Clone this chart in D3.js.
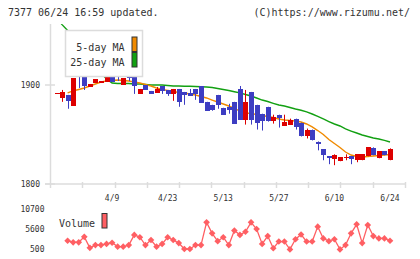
<!DOCTYPE html>
<html>
<head>
<meta charset="utf-8">
<script src="https://cdn.jsdelivr.net/npm/d3@7"></script>
<style>
  body { margin: 0; background: #fff; }
  svg { display: block; }
  text { font-family: "DejaVu Sans Mono", monospace; fill: #333; }
</style>
</head>
<body>
<div id="chart"></div>
<script>
// daily candles (index 0 = oldest day)
const opens  = [1892,1887,1890,1879,1914,1910,1898,1902,1902,1903,1911,1911,1900,1910,1910,1891,1900,1894,1892,1899,
                1895,1891,1896,1893,1892,1896,1899,1883,1880,1890,1877,1878,1883,1896,1865,1893,1880,1871,1878,1864,
                1870,1859,1860,1866,1862,1848,1855,1842,1835,1828,1825,1823,1826,1828,1824,1824,1828,1836,1826,1833,1824];
const highs  = [1892,1895,1890,1907,1914,1912,1901,1906,1904,1909,1911,1911,1907,1910,1911,1896,1900,1894,1898,1899,
                1895,1896,1896,1893,1896,1896,1899,1883,1880,1890,1877,1881,1883,1899,1895,1893,1880,1871,1878,1870,
                1870,1870,1866,1866,1862,1856,1855,1843,1835,1828,1830,1827,1830,1828,1830,1830,1837,1837,1833,1833,1836];
const lows   = [1892,1883,1876,1879,1897,1895,1898,1902,1902,1903,1903,1904,1900,1904,1891,1891,1895,1891,1892,1891,
                1889,1884,1878,1880,1889,1885,1882,1874,1874,1876,1870,1871,1861,1865,1860,1860,1855,1854,1863,1861,
                1857,1859,1860,1855,1848,1846,1844,1834,1824,1820,1819,1823,1824,1820,1822,1824,1828,1829,1826,1829,1824];
const closes = [1892,1893,1884,1907,1909,1899,1901,1906,1904,1909,1903,1908,1907,1907,1899,1896,1895,1891,1896,1894,
                1891,1896,1883,1890,1889,1891,1882,1874,1875,1880,1870,1875,1861,1865,1883,1865,1862,1864,1864,1868,
                1867,1863,1865,1858,1848,1855,1844,1840,1829,1826,1829,1827,1827,1825,1830,1830,1837,1829,1833,1829,1835];

// moving averages (also, the 25-day one comes in from above)
const ma5  = [null,null,1892,1894,1895.5,1897,1899,1901,1903,1904,1904.5,1905,1904.5,1904,1903,1902,1900.5,1899,1897,1895.5,
              1894.4,1893.4,1892.4,1891.9,1890.9,1889.9,1888.4,1886.9,1884.8,1882.8,1880.8,1878.8,1876.3,1873.7,1871.7,1871.2,1870.2,1869.2,1868.2,1867.2,
              1865.7,1864.6,1864.1,1863.6,1862.6,1860.6,1857.6,1854,1850,1845,1840.9,1836.9,1832.3,1829.3,1827.8,1827.3,1827.8,1828.3,1828.8,1829.3,1829.8];
const ma25 = [1968,1961,1955,1947,1939,1931,1924,1917,1912,1906,1902,1901.5,1901.5,1901.5,1901,1901,1900.5,1900,1900,1900,
              1899.5,1899,1899,1898.8,1898.7,1898.5,1898.3,1898,1897.5,1896.5,1895.5,1894.5,1893.2,1892,1890.4,1888.9,1886.9,1884.8,1883.3,1881.5,
              1879.8,1878.8,1877.3,1875.8,1874.5,1872.8,1870.7,1868.2,1865.7,1863.1,1860.6,1858.6,1855.6,1853.5,1851.5,1849.5,1848,1846.5,1845.5,1844,1842.4];

const volume = [null,null,2600,2200,2200,3600,800,1500,1500,1800,2100,1100,1100,1500,4100,3500,1500,2800,1100,1800,
                3500,2800,2000,500,500,1500,1500,7300,4500,2500,3500,1500,5200,4100,4900,7300,5600,1800,3800,700,
                2400,2400,400,3000,4200,2400,2400,6200,3200,2500,3000,400,1500,4500,6800,2000,6600,3800,3200,3200,2600];

const dateLabels = ["4/9", "4/23", "5/13", "5/27", "6/10", "6/24"];
const dateIdx = [10, 20, 30, 40, 50, 60];
const priceTicks = [1800, 1900];
const volTicks = [500, 5600, 10700];

const W = 420, H = 259;
const RED = "#dd0000", BLUE = "#3d3dc2", ORANGE = "#f08a00", GREEN = "#12a012", VOLC = "#ff5f63", GRID = "#dcdcdc";

const svg = d3.select("#chart").append("svg")
  .attr("width", W)
  .attr("height", H);

// scales
const x = d3.scaleLinear().domain([0, opens.length - 1]).range([56.5, 390]);
const y = d3.scaleLinear().domain([1800, 1900]).range([184, 85]);
const yVol = d3.scaleLinear().domain([500, 10700]).range([249, 209]);
const gridX = d3.scaleLinear().domain([0, 11]).range([50, 405]); // the little ticks on the bottom axis

// header
svg.append("text").attr("x", 8).attr("y", 15.5).attr("font-size", 10).text("7377 06/24 16:59 updated.");
svg.append("text").attr("x", 410).attr("y", 15.5).attr("font-size", 10).attr("text-anchor", "end").text("(C)https://www.rizumu.net/");

svg.append("clipPath").attr("id", "plotclip")
  .append("rect").attr("x", 50).attr("y", 24).attr("width", 360).attr("height", 160);

// axes (drawn by hand, the original has ticks crossing the line)
svg.append("line")
  .attr("x1", 50.5).attr("x2", 50.5).attr("y1", 24).attr("y2", 188)
  .attr("stroke", GRID).attr("stroke-width", 1.5);
svg.append("line")
  .attr("x1", 45).attr("x2", 405).attr("y1", y(1800)).attr("y2", y(1800))
  .attr("stroke", GRID).attr("stroke-width", 1.5);

svg.selectAll(".xtick").data(d3.range(1, 12)).join("line")
  .attr("class", "xtick")
  .attr("x1", d => Math.round(gridX(d)) + 0.5).attr("x2", d => Math.round(gridX(d)) + 0.5)
  .attr("y1", y(1800) - 2).attr("y2", y(1800) + 4)
  .attr("stroke", GRID).attr("stroke-width", 1.5);

svg.selectAll(".ytick").data(priceTicks).join("line")
  .attr("class", "ytick")
  .attr("x1", 45).attr("x2", 55)
  .attr("y1", d => y(d)).attr("y2", d => y(d))
  .attr("stroke", GRID).attr("stroke-width", 1.5);

svg.selectAll(".ylab").data(priceTicks).join("text")
  .attr("class", "ylab")
  .attr("x", 40).attr("y", d => y(d) + 3)
  .attr("font-size", 8).attr("text-anchor", "end")
  .text(d => d);

svg.selectAll(".xlab").data(dateIdx).join("text")
  .attr("class", "xlab")
  .attr("x", d => x(d)).attr("y", 200.5)
  .attr("font-size", 8).attr("text-anchor", "middle")
  .text((d, i) => dateLabels[i]);

svg.selectAll(".vlab").data(volTicks).join("text")
  .attr("class", "vlab")
  .attr("x", 44.5).attr("y", d => yVol(d) + 3)
  .attr("font-size", 8).attr("text-anchor", "end")
  .text(d => d);

// moving average lines
const plot = svg.append("g").attr("clip-path", "url(#plotclip)");

const maLine = d3.line()
  .defined(d => d != null)
  .x((d, i) => x(i))
  .y(d => y(d));

plot.append("path").datum(ma25)
  .attr("d", maLine).attr("fill", "none")
  .attr("stroke", GREEN).attr("stroke-width", 1.4);

plot.append("path").datum(ma5)
  .attr("d", maLine).attr("fill", "none")
  .attr("stroke", ORANGE).attr("stroke-width", 1.4);

// legend box sits on top of the lines but under the candles
svg.append("rect")
  .attr("x", 65.5).attr("y", 30.5).attr("width", 77).attr("height", 46)
  .attr("fill", "#fff").attr("stroke", GRID).attr("stroke-width", 1.5);

// candles
const candles = plot.selectAll(".candle").data(opens).join("g").attr("class", "candle");
const col = (o, i) => closes[i] >= o ? RED : BLUE;

candles.append("line")
  .attr("x1", (o, i) => Math.round(x(i)) + 0.5).attr("x2", (o, i) => Math.round(x(i)) + 0.5)
  .attr("y1", (o, i) => y(highs[i])).attr("y2", (o, i) => y(lows[i]))
  .attr("stroke", col).attr("stroke-width", 1);

candles.append("rect")
  .attr("x", (o, i) => Math.round(x(i)) - 2)
  .attr("width", 5)
  .attr("y", (o, i) => y(Math.max(o, closes[i])))
  .attr("height", (o, i) => Math.max(1, Math.abs(y(o) - y(closes[i]))))
  .attr("fill", col)
  .attr("shape-rendering", "crispEdges");

// legend entries
const legend = [{ label: "5-day MA", color: ORANGE, yy: 50.5 }, { label: "25-day MA", color: GREEN, yy: 66 }];
svg.selectAll(".legtext").data(legend).join("text")
  .attr("class", "legtext")
  .attr("x", 124.5).attr("y", d => d.yy)
  .attr("font-size", 10).attr("text-anchor", "end")
  .text(d => d.label);
svg.selectAll(".legbox").data(legend).join("rect")
  .attr("class", "legbox")
  .attr("x", 132).attr("y", d => d.yy - 13.5)
  .attr("width", 5).attr("height", 14.5)
  .attr("fill", d => d.color).attr("stroke", "#333").attr("stroke-width", 1);

// volume panel
const volLine = d3.line()
  .defined(d => d != null)
  .x((d, i) => x(i))
  .y(d => yVol(d));

svg.append("path").datum(volume)
  .attr("d", volLine).attr("fill", "none")
  .attr("stroke", VOLC).attr("stroke-width", 1.3);

const diamond = d3.symbol().type(d3.symbolSquare).size(22);
svg.selectAll(".vdot").data(volume.map((v, i) => ({ v, i })).filter(d => d.v != null)).join("path")
  .attr("class", "vdot")
  .attr("d", diamond)
  .attr("transform", d => `translate(${x(d.i)},${yVol(d.v)}) rotate(45)`)
  .attr("fill", VOLC);

svg.append("text").attr("x", 59).attr("y", 226.5).attr("font-size", 10).text("Volume");
svg.append("rect")
  .attr("x", 102).attr("y", 213.5).attr("width", 5).attr("height", 14.5)
  .attr("fill", VOLC).attr("stroke", "#333").attr("stroke-width", 1);
</script>
</body>
</html>
